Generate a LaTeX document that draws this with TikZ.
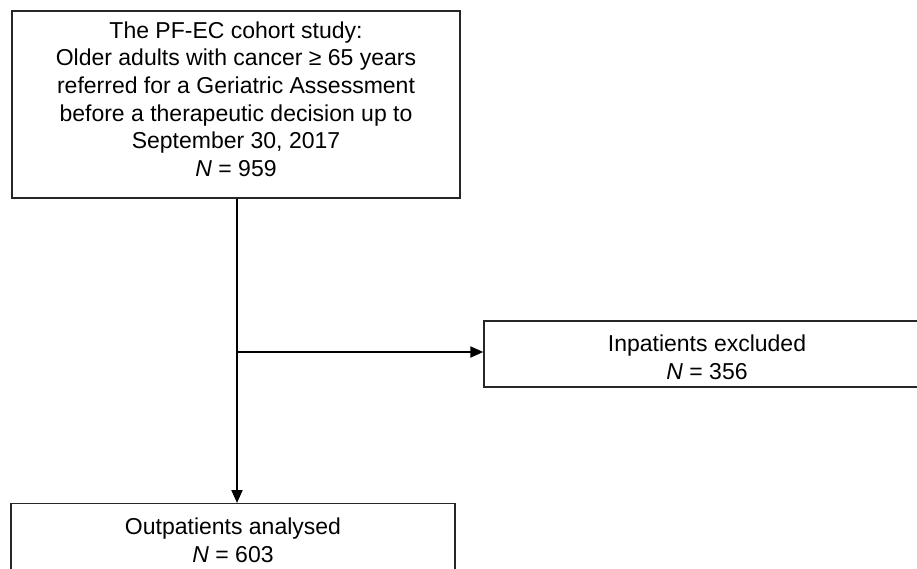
\documentclass[tikz,border=0pt]{standalone}
\usepackage{fontspec}
\setmainfont{Liberation Sans}
\usetikzlibrary{arrows.meta}
\begin{document}
\begin{tikzpicture}[x=1pt,y=-1pt,
  box/.style={draw=black!85, line width=1.3pt, inner sep=0pt},
  txt/.style={align=center, inner sep=0pt, font=\fontsize{23}{27.6}\selectfont},
  conn/.style={line width=2pt, -{Triangle[length=13pt,width=11pt]}}]
\useasboundingbox (0,0) rectangle (917,568);
\clip (0,0) rectangle (917,568);
\node[box, minimum width=448pt, minimum height=187pt] (top) at (236,104.5) {};
\node[txt] (toptxt) at (236,99)
  {The PF-EC cohort study:\\Older adults with cancer \char"2265{} 65 years\\referred for a Geriatric Assessment\\before a therapeutic decision up to\\September 30, 2017\\\textit{N} = 959};
\node[box, minimum width=446pt, minimum height=66pt] (excl) at (707,354) {};
\node[txt] (excltxt) at (707,357.5) {Inpatients excluded\\\textit{N} = 356};
\node[box, minimum width=444pt, minimum height=80pt, anchor=north] (out) at (233,503) {};
\node[txt] (outtxt) at (233,540) {Outpatients analysed\\\textit{N} = 603};
\coordinate (split) at (237,352);
\draw[conn] (top.south -| split) -- (out.north -| split);
\draw[conn] (split) -- (split -| excl.west);
\end{tikzpicture}
\end{document}
